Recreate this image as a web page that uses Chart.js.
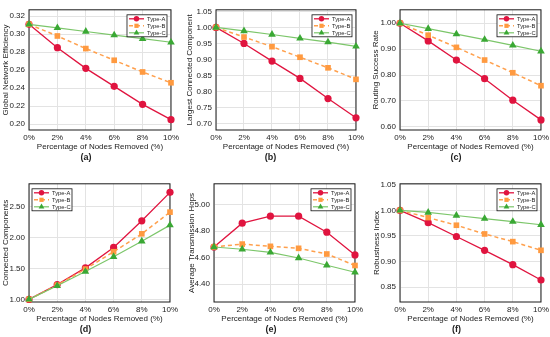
<!DOCTYPE html>
<html>
<head>
<meta charset="utf-8">
<script src="https://cdn.jsdelivr.net/npm/chart.js@4.4.0/dist/chart.umd.min.js"></script>
<style>
  html, body { margin: 0; padding: 0; background: #fff; overflow: hidden; width: 550px; height: 337px; }
  canvas { position: absolute; }
</style>
</head>
<body>
<script>
// x categories
const removed = ['0%', '2%', '4%', '6%', '8%', '10%'];
const seriesNames = ['Type-A', 'Type-B', 'Type-C'];

// (a) global network efficiency
const effA = [0.311, 0.285, 0.262, 0.242, 0.222, 0.205];
const effB = [0.311, 0.298, 0.284, 0.271, 0.258, 0.246];
const effC = [0.311, 0.307, 0.303, 0.299, 0.295, 0.291];
const effTicks = [0.20, 0.22, 0.24, 0.26, 0.28, 0.30, 0.32];

// (b) largest connected component
const lccA = [1.0, 0.950, 0.895, 0.841, 0.778, 0.718];
const lccB = [1.0, 0.970, 0.940, 0.907, 0.874, 0.838];
const lccC = [1.0, 0.989, 0.978, 0.966, 0.954, 0.941];
const lccTicks = [0.70, 0.75, 0.80, 0.85, 0.90, 0.95, 1.00, 1.05];

// (c) routing success rate
const routeA = [1.0, 0.932, 0.858, 0.786, 0.703, 0.627];
const routeB = [1.0, 0.954, 0.907, 0.858, 0.809, 0.759];
const routeC = [1.0, 0.979, 0.958, 0.937, 0.915, 0.892];
const routeTicks = [0.60, 0.70, 0.80, 0.90, 1.00];

// (d) connected components
const compA = [1.0, 1.24, 1.51, 1.84, 2.27, 2.73];
const compB = [1.0, 1.23, 1.49, 1.77, 2.06, 2.41];
const compC = [1.0, 1.22, 1.45, 1.69, 1.94, 2.20];
const compTicks = [1.00, 1.50, 2.00, 2.50];

// (e) average transmission hops
const hopsA = [4.68, 4.86, 4.913, 4.913, 4.792, 4.620];
const hopsB = [4.68, 4.702, 4.685, 4.670, 4.627, 4.540];
const hopsC = [4.68, 4.663, 4.639, 4.597, 4.542, 4.489];
const hopsTicks = [4.40, 4.60, 4.80, 5.00];

// (f) robustness index
const robA = [1.0, 0.976, 0.949, 0.922, 0.894, 0.864];
const robB = [1.0, 0.986, 0.971, 0.954, 0.939, 0.922];
const robC = [1.0, 0.996, 0.990, 0.984, 0.978, 0.972];
const robTicks = [0.85, 0.90, 0.95, 1.00, 1.05];

// the original looks squeezed sideways, so horizontal text uses the narrow face
const NARROW = "'Liberation Sans Narrow', 'Arial Narrow', 'Liberation Sans', sans-serif";
const FONT = "'Liberation Sans', Arial, sans-serif";
const TEXT = '#222';

const styles = [
  { borderColor: '#e0143f', pointBackgroundColor: '#e0143f', pointStyle: 'circle', pointRadius: 3.6, borderWidth: 1.3, order: 3 },
  { borderColor: '#ffa04d', pointBackgroundColor: '#ff9a40', pointStyle: 'rect', pointRadius: 4.0, borderWidth: 1.5, borderDash: [4, 3], order: 2 },
  { borderColor: '#7cc66a', pointBackgroundColor: '#3aa834', pointStyle: 'triangle', pointRadius: 4.4, borderWidth: 1.2, order: 1 }
];

// box round the plot area
const frame = {
  id: 'frame',
  beforeDatasetsDraw(chart) {
    const { ctx, chartArea: a } = chart;
    ctx.save();
    ctx.strokeStyle = '#1a1a1a';
    ctx.lineWidth = 1;
    ctx.strokeRect(a.left, a.top, a.width, a.height);
    ctx.restore();
  }
};

// small boxed legend inside the plot
const boxLegend = {
  id: 'boxLegend',
  afterDatasetsDraw(chart, args, opts) {
    const { ctx, chartArea: a } = chart;
    const w = 40, h = 22;
    const x = opts.left ? a.left + 3 : a.right - 4 - w;
    const y = a.top + 5;
    ctx.save();
    ctx.fillStyle = '#fff';
    ctx.fillRect(x, y, w, h);
    ctx.strokeStyle = '#111';
    ctx.lineWidth = 0.8;
    ctx.strokeRect(x, y, w, h);
    chart.data.datasets.forEach((ds, i) => {
      const cy = y + 4 + i * 7;
      ctx.strokeStyle = ds.borderColor;
      ctx.lineWidth = ds.borderWidth;
      ctx.setLineDash(ds.borderDash || []);
      ctx.beginPath();
      ctx.moveTo(x + 2, cy);
      ctx.lineTo(x + 17, cy);
      ctx.stroke();
      ctx.setLineDash([]);
      ctx.fillStyle = ds.pointBackgroundColor;
      Chart.helpers.drawPoint(ctx, { pointStyle: ds.pointStyle, radius: ds.pointRadius * 0.75, rotation: 0, borderWidth: 0 }, x + 9.5, cy);
      ctx.fillStyle = TEXT;
      ctx.font = '5.8px ' + NARROW;
      ctx.textBaseline = 'middle';
      ctx.fillText(ds.label, x + 20, cy + 0.5);
    });
    ctx.restore();
  }
};

function makePanel(p) {
  const L = Math.round(p.yTitleX - 6), T = p.t - 4, R = p.r + 10, B = p.b + 34;
  const c = document.createElement('canvas');
  c.width = R - L; c.height = B - T;
  c.style.left = L + 'px'; c.style.top = T + 'px';
  c.style.width = (R - L) + 'px'; c.style.height = (B - T) + 'px';
  document.body.appendChild(c);

  new Chart(c, {
    type: 'line',
    data: {
      labels: removed,
      datasets: p.series.map((d, i) => Object.assign({
        label: seriesNames[i], data: d, tension: 0, clip: false, pointBorderWidth: 0, fill: false
      }, styles[i]))
    },
    options: {
      responsive: false,
      animation: false,
      devicePixelRatio: 1,
      layout: { padding: { top: p.t - T, right: R - p.r, bottom: B - (p.b + 32.8), left: 0 } },
      plugins: {
        legend: { display: false },
        tooltip: { enabled: false },
        title: {
          display: true, position: 'bottom', text: p.label, color: TEXT,
          font: { family: NARROW, size: 9, weight: 'bold' }, padding: 0
        },
        boxLegend: { left: !!p.legendLeft }
      },
      scales: {
        x: {
          grid: { color: '#e3e3e3', drawTicks: false },
          border: { display: false },
          ticks: { color: TEXT, font: { family: NARROW, size: 8 }, padding: 3, maxRotation: 0, autoSkip: false },
          title: { display: true, text: 'Percentage of Nodes Removed (%)', color: TEXT, font: { family: NARROW, size: 8 }, padding: 0 },
          afterFit: s => { s.height = 22; }
        },
        y: {
          min: p.min, max: p.max,
          grid: { color: '#e3e3e3', drawTicks: false },
          border: { display: false },
          ticks: { color: TEXT, font: { family: NARROW, size: 8 }, padding: 4, callback: v => v.toFixed(2) },
          afterBuildTicks: s => { s.ticks = p.ticks.map(v => ({ value: v })); },
          title: { display: true, text: p.yTitle, color: TEXT, font: { family: FONT, size: 8 }, padding: { top: 0.5, bottom: 0 } },
          afterFit: s => { s.width = p.l - L; }
        }
      }
    },
    plugins: [frame, boxLegend]
  });
}

makePanel({ label: '(a)', yTitle: 'Global Network Efficiency', series: [effA, effB, effC], ticks: effTicks,
  min: 0.1935, max: 0.3271, l: 29, r: 172, t: 5, b: 130, yTitleX: 6 });
makePanel({ label: '(b)', yTitle: 'Largest Connected Component', series: [lccA, lccB, lccC], ticks: lccTicks,
  min: 0.68, max: 1.055, l: 216, r: 357, t: 5, b: 130, yTitleX: 190 });
makePanel({ label: '(c)', yTitle: 'Routing Success Rate', series: [routeA, routeB, routeC], ticks: routeTicks,
  min: 0.588, max: 1.052, l: 400, r: 542, t: 5, b: 130, yTitleX: 376 });
makePanel({ label: '(d)', yTitle: 'Connected Components', series: [compA, compB, compC], ticks: compTicks,
  min: 0.958, max: 2.868, l: 29, r: 171, t: 179, b: 302, yTitleX: 6, legendLeft: true });
makePanel({ label: '(e)', yTitle: 'Average Transmission Hops', series: [hopsA, hopsB, hopsC], ticks: hopsTicks,
  min: 4.264, max: 5.158, l: 214, r: 356, t: 179, b: 302, yTitleX: 192 });
makePanel({ label: '(f)', yTitle: 'Robustness Index', series: [robA, robB, robC], ticks: robTicks,
  min: 0.821, max: 1.052, l: 400, r: 542, t: 179, b: 302, yTitleX: 377 });
</script>
</body>
</html>
